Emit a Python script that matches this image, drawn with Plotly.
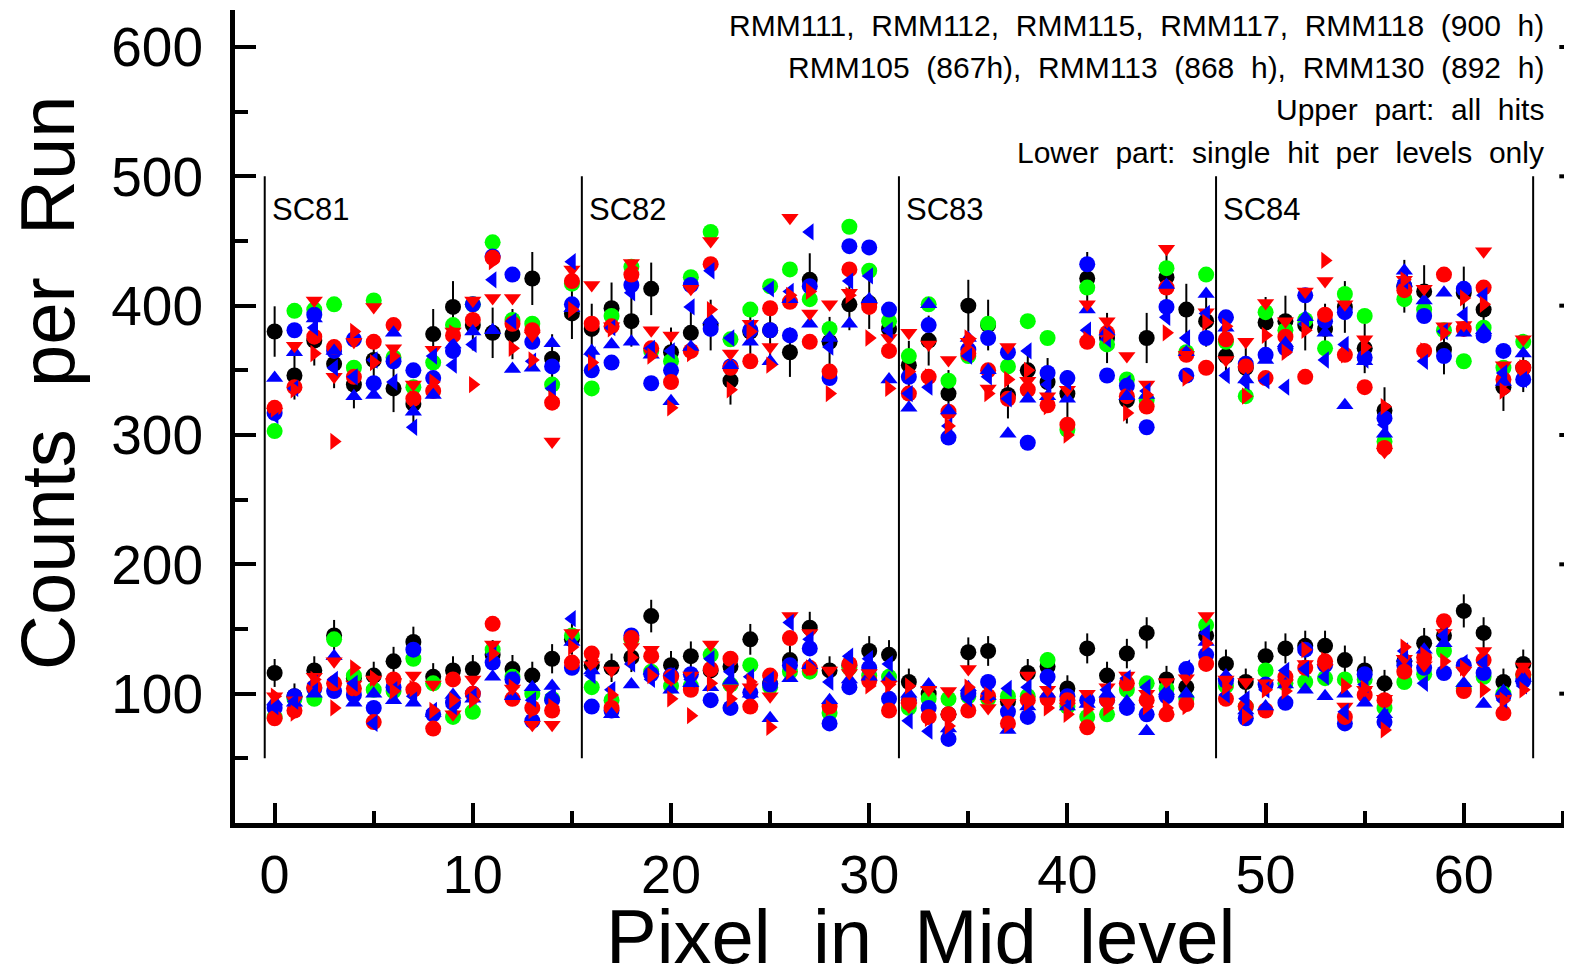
import plotly.graph_objects as go

pixels = list(range(64))

black_upper = [380,346,373,355,339,358,336,324,378,399,385,379,378,421,359,394,
               382,398,388,413,364,379,385,342,380,381,364,420,372,401,402,382,
               354,373,332,400,385,331,350,341,332,421,375,327,375,422,397,388,
               361,352,387,388,385,382,399,367,319,415,411,366,410,397,337,352]
black_upper_err = [19.5,18.6,19.3,18.8,18.4,18.9,18.3,18.0,19.4,20.0,19.6,19.5,19.4,20.5,18.9,19.8,
                   19.5,19.9,19.7,20.3,19.1,19.5,19.6,18.5,19.5,19.5,19.1,20.5,19.3,20.0,20.0,19.5,
                   18.8,19.3,18.2,20.0,19.6,18.2,18.7,18.5,18.2,20.5,19.4,18.1,19.4,20.5,19.9,19.7,
                   19.0,18.8,19.7,19.7,19.6,19.5,20.0,19.2,17.9,20.4,20.3,19.1,20.2,19.9,18.4,18.8]
black_lower = [116,98,118,145,112,114,125,140,113,118,119,130,119,114,127,142,
               122,120,128,160,122,129,118,121,142,108,126,151,118,122,133,130,
               109,100,84,132,133,94,116,121,104,135,114,131,147,111,105,145,
               123,109,129,135,137,137,126,118,108,125,139,145,164,147,109,123]
black_lower_err = [10.8,9.9,10.9,12.0,10.6,10.7,11.2,11.8,10.6,10.9,10.9,11.4,10.9,10.7,11.3,11.9,
                   11.0,11.0,11.3,12.6,11.0,11.4,10.9,11.0,11.9,10.4,11.2,12.3,10.9,11.0,11.5,11.4,
                   10.4,10.0,9.2,11.5,11.5,9.7,10.8,11.0,10.2,11.6,10.7,11.4,12.1,10.5,10.2,12.0,
                   11.1,10.4,11.4,11.6,11.7,11.7,11.2,10.9,10.4,11.2,11.8,12.0,12.8,12.1,10.4,11.1]

green_upper = [303,396,397,401,352,404,360,337,356,385,401,449,389,386,339,417,
               336,392,430,365,357,422,457,374,397,415,428,405,382,461,427,388,
               361,401,342,361,386,353,388,375,304,414,370,343,327,429,364,424,
               372,330,395,381,389,367,409,392,295,405,397,381,357,383,352,372]
green_lower = [82,96,96,142,114,103,102,127,108,82,86,134,113,100,96,145,
               105,95,142,117,106,106,130,107,122,105,117,117,85,120,114,113,
               89,96,96,98,96,98,98,126,90,82,84,103,108,104,96,153,
               106,90,118,108,109,112,111,111,89,109,115,133,104,113,100,114]

blue_circle_upper = [317,381,393,365,374,340,357,350,344,365,401,438,424,372,353,401,
                     350,356,416,340,350,416,382,353,381,381,377,415,344,446,445,397,
                     345,385,298,366,375,364,294,348,344,432,346,338,306,399,346,375,
                     391,355,362,367,408,388,395,360,313,415,392,361,413,377,365,343]
blue_circle_lower = [89,98,104,102,99,89,105,134,84,93,100,124,111,79,95,120,
                     90,87,145,115,114,115,95,89,101,107,122,135,77,105,120,96,
                     95,89,65,100,109,86,82,113,98,95,95,89,84,98,119,130,
                     110,81,107,93,134,122,77,115,78,122,120,116,122,116,98,110]

red_circle_upper = [321,337,376,368,345,372,385,328,334,377,389,437,386,381,325,419,
                    386,384,424,367,341,365,432,352,357,398,403,372,349,428,399,365,
                    332,345,318,363,350,328,335,323,308,372,379,330,322,414,362,352,
                    374,353,344,376,345,393,362,337,290,412,365,424,382,414,343,352]
red_circle_lower = [81,87,105,108,104,78,111,103,73,111,100,154,96,89,87,124,
                    131,89,143,129,113,103,119,127,90,114,143,120,90,123,110,87,
                    93,82,84,87,98,77,95,96,95,74,95,108,95,84,92,123,
                    96,90,87,113,120,125,82,99,95,117,128,156,102,126,85,115]

blue_up_upper = [344,364,390,365,330,331,379,318,331,370,380,381,351,352,371,398,
                 365,370,372,362,326,368,389,354,372,357,405,386,375,386,405,343,
                 321,401,319,375,350,301,328,330,328,397,380,330,331,416,364,409,
                 383,343,358,371,391,379,323,357,301,427,404,410,379,381,341,363]
blue_up_lower = [94,93,100,129,93,100,95,93,85,99,96,113,98,105,106,140,
                 118,84,107,118,103,108,105,110,100,81,112,122,95,111,113,112,
                 100,107,73,105,98,72,90,100,90,92,100,94,71,102,100,140,
                 114,87,90,107,103,98,100,93,84,128,134,139,108,92,102,112]

red_down_upper = [318,369,404,345,372,399,367,339,366,380,404,406,406,377,295,428,
                  416,384,433,381,377,413,450,363,386,368,468,394,401,410,399,375,
                  379,370,358,372,336,368,342,330,335,401,388,361,339,444,362,395,
                  358,372,402,388,411,419,401,374,287,420,413,384,385,442,354,374]
red_down_lower = [98,95,113,125,107,111,109,114,107,84,111,138,104,76,76,147,
                  122,118,136,134,111,114,138,104,105,98,160,147,118,116,116,107,
                  90,103,102,119,89,93,114,103,90,100,105,114,100,109,112,160,
                  111,109,108,108,123,120,90,103,96,127,122,147,118,133,96,121]

blue_left_upper = [315,336,383,352,345,358,341,306,361,354,370,420,388,357,336,434,
                   362,383,410,367,365,399,427,375,383,413,411,457,368,419,423,381,
                   332,337,307,361,345,328,365,339,341,381,374,340,334,391,375,394,
                   346,341,342,337,386,358,370,358,308,419,357,380,393,408,348,343]
blue_left_lower = [90,94,108,111,108,77,103,98,87,90,98,130,111,95,99,158,
                   114,103,123,111,114,111,127,117,113,111,155,142,109,129,127,123,
                   79,71,71,96,100,104,105,110,89,93,103,112,105,100,120,147,
                   99,96,103,118,119,113,86,107,82,133,108,145,124,124,95,106]

red_right_upper = [320,335,363,295,380,356,361,328,341,379,339,434,367,358,328,397,
                   356,382,429,361,321,363,397,335,380,354,408,411,332,408,375,336,
                   349,345,307,375,332,343,350,322,300,374,377,317,331,379,344,387,
                   384,330,377,364,381,435,362,368,322,420,365,379,406,401,334,352]
red_right_lower = [98,85,111,89,120,112,102,104,87,95,95,131,105,87,90,136,
                   126,99,128,114,96,83,108,96,109,74,117,120,89,120,106,107,
                   106,81,75,105,99,76,93,89,84,88,89,108,90,89,90,139,
                   105,82,103,102,134,126,106,104,72,136,130,125,120,103,95,103]

x_tick_values = [0, 10, 20, 30, 40, 50, 60]
y_tick_values = [100, 200, 300, 400, 500, 600]
sc_boundaries = [-0.5, 15.5, 31.5, 47.5, 63.5]
sc_labels = ["SC81", "SC82", "SC83", "SC84"]
info_lines = ["RMM111, RMM112, RMM115, RMM117, RMM118 (900 h)",
              "RMM105 (867h), RMM113 (868 h), RMM130 (892 h)",
              "Upper part: all hits",
              "Lower part: single hit per levels only"]
info_y = [617, 584.5, 551.3, 518.8]

NB = "\u00a0"

def spaced(s):
    return s.replace(" ", NB + NB)

fig = go.Figure()

x2 = pixels + pixels

fig.add_trace(go.Scatter(
    x=x2, y=black_upper + black_lower, mode="markers",
    marker=dict(symbol="circle", size=16, color="#000000", line=dict(width=0)),
    error_y=dict(type="data", array=black_upper_err + black_lower_err,
                 visible=True, thickness=2, width=0, color="#000000"),
    name="black"))

specs = [
    (green_upper, green_lower, "circle", "#00ff00", 16),
    (blue_circle_upper, blue_circle_lower, "circle", "#0000ff", 16),
    (red_circle_upper, red_circle_lower, "circle", "#ff0000", 16),
    (blue_up_upper, blue_up_lower, "triangle-up", "#0000ff", 15),
    (red_down_upper, red_down_lower, "triangle-down", "#ff0000", 15),
    (blue_left_upper, blue_left_lower, "triangle-left", "#0000ff", 15),
    (red_right_upper, red_right_lower, "triangle-right", "#ff0000", 15),
]
for up, lo, sym, col, sz in specs:
    fig.add_trace(go.Scatter(
        x=x2, y=up + lo, mode="markers",
        marker=dict(symbol=sym, size=sz, color=col, line=dict(width=0))))

shapes = []
for b in sc_boundaries:
    shapes.append(dict(type="line", xref="x", yref="y", x0=b, x1=b, y0=50, y1=500,
                       line=dict(color="black", width=2)))
# right-side ticks (mirror of left axis)
for v in range(50, 601, 50):
    major = (v % 100 == 0)
    shapes.append(dict(type="line", xref="paper", yref="y",
                       x0=0.9905 if major else 0.9955, x1=1.0, y0=v, y1=v,
                       line=dict(color="black", width=4)))

annotations = []
for b, lab in zip(sc_boundaries[:-1], sc_labels):
    annotations.append(dict(x=b, y=474, xref="x", yref="y", text=lab, showarrow=False,
                            xanchor="left", yanchor="middle", xshift=5,
                            font=dict(family="Liberation Sans", size=31, color="black")))
for line, yv in zip(info_lines, info_y):
    annotations.append(dict(x=(1546 - 235) / 1337, y=yv, xref="paper", yref="y",
                            text=spaced(line), showarrow=False, xanchor="right", yanchor="middle",
                            font=dict(family="Liberation Sans", size=30, color="black")))
annotations.append(dict(x=(920 - 235) / 1337, y=(823 - 936) / 813, xref="paper", yref="paper",
                        text=spaced("Pixel in Mid level"), showarrow=False,
                        xanchor="center", yanchor="middle",
                        font=dict(family="Liberation Sans", size=76, color="black")))
annotations.append(dict(x=(47 - 235) / 1337, y=(823 - 383) / 813, xref="paper", yref="paper",
                        text=spaced("Counts per Run"), showarrow=False, textangle=-90,
                        xanchor="center", yanchor="middle",
                        font=dict(family="Liberation Sans", size=76, color="black")))

# The page body has an 8px margin, so the figure is sized/offset to compensate.
fig.update_layout(
    width=1564, height=968,
    margin=dict(l=227, r=0, t=2, b=153, autoexpand=False),
    plot_bgcolor="white", paper_bgcolor="white",
    showlegend=False,
    shapes=shapes, annotations=annotations,
    xaxis=dict(range=[-2, 65.46], showline=True, linewidth=5, linecolor="black",
               ticks="inside", ticklen=20, tickwidth=4, tickcolor="black",
               tickmode="array", tickvals=x_tick_values, ticktext=[str(v) for v in x_tick_values],
               tickfont=dict(family="Liberation Sans", size=54, color="black"),
               ticklabelstandoff=0,
               minor=dict(dtick=5, tick0=0, ticks="inside", ticklen=12, tickwidth=4, tickcolor="black"),
               showgrid=False, zeroline=False, automargin=False),
    yaxis=dict(range=[0, 628.6], showline=True, linewidth=5, linecolor="black",
               ticks="inside", ticklen=21, tickwidth=4, tickcolor="black",
               tickmode="array", tickvals=y_tick_values, ticktext=[str(v) for v in y_tick_values],
               tickfont=dict(family="Liberation Sans", size=55, color="black"),
               ticklabelstandoff=16,
               minor=dict(dtick=50, tick0=0, ticks="inside", ticklen=13, tickwidth=4, tickcolor="black"),
               showgrid=False, zeroline=False, automargin=False),
)

fig.write_html("out.html")
